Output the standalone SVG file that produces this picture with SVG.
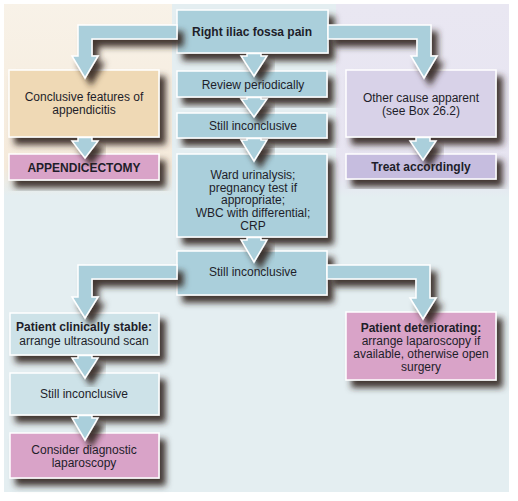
<svg xmlns="http://www.w3.org/2000/svg" width="518" height="501" viewBox="0 0 518 501">
<defs>
<linearGradient id="gPeach" x1="0" y1="0" x2="0" y2="1">
<stop offset="0" stop-color="#f8f2e8"/><stop offset="0.85" stop-color="#f5eadb"/><stop offset="1" stop-color="#e4eef1"/>
</linearGradient>
<linearGradient id="gLav" x1="0" y1="0" x2="0" y2="1">
<stop offset="0" stop-color="#e9e7f2"/><stop offset="0.88" stop-color="#e7e4f1"/><stop offset="1" stop-color="#e4eef1"/>
</linearGradient>
<filter id="sh" x="-20%" y="-20%" width="150%" height="160%">
<feDropShadow dx="6" dy="7" stdDeviation="3" flood-color="#33241c" flood-opacity="0.9"/>
</filter>
<style>
.box{stroke:#fff;stroke-width:1.5;filter:url(#sh)}
.blue{fill:#aacfdb}
.lblue{fill:#cde2e8}
.pink{fill:#d9a3c8}
.peach{fill:#efd9b5}
.lav{fill:#d8d2e8}
.lav2{fill:#c6bddf}
.con{fill:#aacfdb;stroke:#fff;stroke-width:1.5;stroke-linejoin:miter;filter:url(#sh)}
text{font-family:"Liberation Sans",Arial,sans-serif;font-size:12px;fill:#1e1e2a;text-anchor:middle}
.b{font-weight:bold}
</style>
</defs>
<rect x="0" y="0" width="518" height="501" fill="#fff"/>
<rect x="4" y="4" width="505" height="488" fill="#e4eef1"/>
<rect x="4" y="4" width="168" height="192" fill="url(#gPeach)"/>
<rect x="336" y="4" width="173" height="194" fill="url(#gLav)"/>

<g id="n1"><rect class="box blue" x="177" y="10" width="151" height="43"/><text class="b" x="252" y="36">Right iliac fossa pain</text></g>
<g id="n2"><rect class="box blue" x="177" y="71" width="150" height="26"/><text x="253" y="89">Review periodically</text></g>
<g id="n3"><rect class="box blue" x="177" y="113" width="150" height="25"/><text x="253" y="130">Still inconclusive</text></g>
<g id="n4"><rect class="box blue" x="177" y="154" width="150" height="83"/>
<text x="253" y="178.5">Ward urinalysis;</text><text x="253" y="191.5">pregnancy test if</text><text x="253" y="204">appropriate;</text><text x="253" y="216.5">WBC with differential;</text><text x="253" y="229.5">CRP</text></g>
<g id="n5"><rect class="box blue" x="177" y="251" width="150" height="44"/><text x="253" y="276">Still inconclusive</text></g>
<g id="n6"><rect class="box peach" x="9" y="70" width="150" height="67"/><text x="84" y="101">Conclusive features of</text><text x="84" y="114">appendicitis</text></g>
<g id="n7"><rect class="box pink" x="9" y="154" width="150" height="26"/><text class="b" x="84" y="171.5">APPENDICECTOMY</text></g>
<g id="n8"><rect class="box lav" x="346" y="70" width="150" height="67"/><text x="421" y="101.5">Other cause apparent</text><text x="421" y="114.5">(see Box 26.2)</text></g>
<g id="n9"><rect class="box lav2" x="346" y="154" width="150" height="25"/><text class="b" x="421" y="171">Treat accordingly</text></g>
<g id="n10"><rect class="box lblue" x="10" y="313" width="149" height="42"/><text class="b" x="84" y="331">Patient clinically stable:</text><text x="84" y="344.5">arrange ultrasound scan</text></g>
<g id="n11"><rect class="box lblue" x="10" y="373" width="149" height="42"/><text x="84" y="397.5">Still inconclusive</text></g>
<g id="n12"><rect class="box pink" x="10" y="433" width="149" height="45"/><text x="84" y="454">Consider diagnostic</text><text x="84" y="467">laparoscopy</text></g>
<g id="n13"><rect class="box pink" x="346" y="312" width="150" height="68"/><text class="b" x="421" y="332">Patient deteriorating:</text><text x="421" y="345">arrange laparoscopy if</text><text x="421" y="358">available, otherwise open</text><text x="421" y="371">surgery</text></g>

<g id="connectors">
<polygon class="con" points="177,25 78,25 78,56 72,56 85,78 98,56 92,56 92,39 177,39"/>
<polygon class="con" points="328,25 431,25 431,56 437,56 424,78 411,56 417,56 417,39 328,39"/>
<polygon class="con" points="247,53.5 261,53.5 261,56 267,56 254,76 241,56 247,56"/>
<polygon class="con" points="247,97.5 261,97.5 261,99 267,99 254,117 241,99 247,99"/>
<polygon class="con" points="247,138.5 261,138.5 261,140 267,140 254,161 241,140 247,140"/>
<polygon class="con" points="247,237.5 261,237.5 261,240 267,240 254,262 241,240 247,240"/>
<polygon class="con" points="78,137.5 92,137.5 92,141 98,141 85,158 72,141 78,141"/>
<polygon class="con" points="416,137.5 430,137.5 430,141 436,141 423,160 410,141 416,141"/>
<polygon class="con" points="177,265 78,265 78,297 72,297 85,318 98,297 92,297 92,279 177,279"/>
<polygon class="con" points="327,265 430,265 430,298 436,298 423,319 410,298 416,298 416,279 327,279"/>
<polygon class="con" points="78,355.5 92,355.5 92,358 98,358 85,378 72,358 78,358"/>
<polygon class="con" points="78,415.5 92,415.5 92,418 98,418 85,440 72,418 78,418"/>
</g>
</svg>
